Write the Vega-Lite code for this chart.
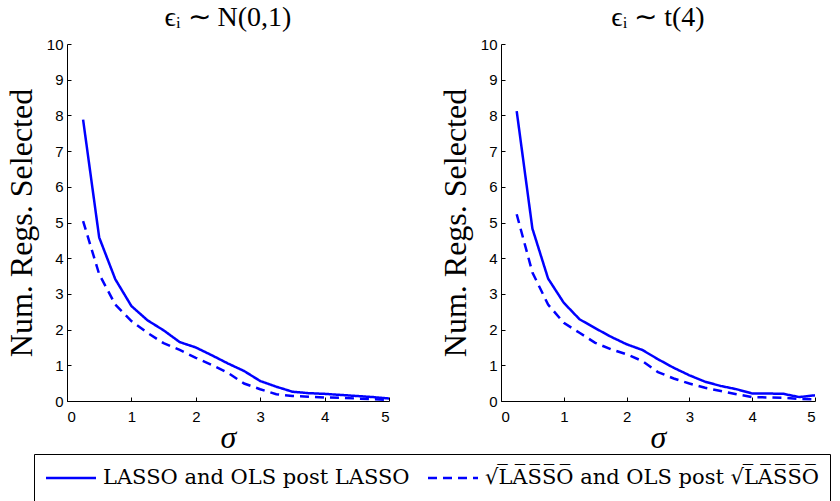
{
  "$schema": "https://vega.github.io/schema/vega-lite/v6.json",
  "padding": {"left": 5, "top": 4, "right": 0, "bottom": 0},
  "datasets": {
    "d": [
      {"dist": "N", "method": "LASSO and OLS post LASSO", "sigma": 0.25, "num": 7.88},
      {"dist": "N", "method": "LASSO and OLS post LASSO", "sigma": 0.5, "num": 4.58},
      {"dist": "N", "method": "LASSO and OLS post LASSO", "sigma": 0.75, "num": 3.41},
      {"dist": "N", "method": "LASSO and OLS post LASSO", "sigma": 1.0, "num": 2.66},
      {"dist": "N", "method": "LASSO and OLS post LASSO", "sigma": 1.25, "num": 2.26},
      {"dist": "N", "method": "LASSO and OLS post LASSO", "sigma": 1.5, "num": 1.98},
      {"dist": "N", "method": "LASSO and OLS post LASSO", "sigma": 1.75, "num": 1.65},
      {"dist": "N", "method": "LASSO and OLS post LASSO", "sigma": 2.0, "num": 1.5},
      {"dist": "N", "method": "LASSO and OLS post LASSO", "sigma": 2.25, "num": 1.28},
      {"dist": "N", "method": "LASSO and OLS post LASSO", "sigma": 2.5, "num": 1.05},
      {"dist": "N", "method": "LASSO and OLS post LASSO", "sigma": 2.75, "num": 0.84},
      {"dist": "N", "method": "LASSO and OLS post LASSO", "sigma": 3.0, "num": 0.56},
      {"dist": "N", "method": "LASSO and OLS post LASSO", "sigma": 3.25, "num": 0.4},
      {"dist": "N", "method": "LASSO and OLS post LASSO", "sigma": 3.5, "num": 0.26},
      {"dist": "N", "method": "LASSO and OLS post LASSO", "sigma": 3.75, "num": 0.22},
      {"dist": "N", "method": "LASSO and OLS post LASSO", "sigma": 4.0, "num": 0.2},
      {"dist": "N", "method": "LASSO and OLS post LASSO", "sigma": 4.25, "num": 0.17},
      {"dist": "N", "method": "LASSO and OLS post LASSO", "sigma": 4.5, "num": 0.14},
      {"dist": "N", "method": "LASSO and OLS post LASSO", "sigma": 4.75, "num": 0.11},
      {"dist": "N", "method": "LASSO and OLS post LASSO", "sigma": 5.0, "num": 0.07},
      {"dist": "N", "method": "√L̅A̅S̅S̅O̅ and OLS post √L̅A̅S̅S̅O̅", "sigma": 0.25, "num": 5.04},
      {"dist": "N", "method": "√L̅A̅S̅S̅O̅ and OLS post √L̅A̅S̅S̅O̅", "sigma": 0.5, "num": 3.55},
      {"dist": "N", "method": "√L̅A̅S̅S̅O̅ and OLS post √L̅A̅S̅S̅O̅", "sigma": 0.75, "num": 2.7},
      {"dist": "N", "method": "√L̅A̅S̅S̅O̅ and OLS post √L̅A̅S̅S̅O̅", "sigma": 1.0, "num": 2.24},
      {"dist": "N", "method": "√L̅A̅S̅S̅O̅ and OLS post √L̅A̅S̅S̅O̅", "sigma": 1.25, "num": 1.91},
      {"dist": "N", "method": "√L̅A̅S̅S̅O̅ and OLS post √L̅A̅S̅S̅O̅", "sigma": 1.5, "num": 1.62},
      {"dist": "N", "method": "√L̅A̅S̅S̅O̅ and OLS post √L̅A̅S̅S̅O̅", "sigma": 1.75, "num": 1.43},
      {"dist": "N", "method": "√L̅A̅S̅S̅O̅ and OLS post √L̅A̅S̅S̅O̅", "sigma": 2.0, "num": 1.21},
      {"dist": "N", "method": "√L̅A̅S̅S̅O̅ and OLS post √L̅A̅S̅S̅O̅", "sigma": 2.25, "num": 1.01},
      {"dist": "N", "method": "√L̅A̅S̅S̅O̅ and OLS post √L̅A̅S̅S̅O̅", "sigma": 2.5, "num": 0.79},
      {"dist": "N", "method": "√L̅A̅S̅S̅O̅ and OLS post √L̅A̅S̅S̅O̅", "sigma": 2.75, "num": 0.49},
      {"dist": "N", "method": "√L̅A̅S̅S̅O̅ and OLS post √L̅A̅S̅S̅O̅", "sigma": 3.0, "num": 0.33},
      {"dist": "N", "method": "√L̅A̅S̅S̅O̅ and OLS post √L̅A̅S̅S̅O̅", "sigma": 3.25, "num": 0.19},
      {"dist": "N", "method": "√L̅A̅S̅S̅O̅ and OLS post √L̅A̅S̅S̅O̅", "sigma": 3.5, "num": 0.14},
      {"dist": "N", "method": "√L̅A̅S̅S̅O̅ and OLS post √L̅A̅S̅S̅O̅", "sigma": 3.75, "num": 0.12},
      {"dist": "N", "method": "√L̅A̅S̅S̅O̅ and OLS post √L̅A̅S̅S̅O̅", "sigma": 4.0, "num": 0.1},
      {"dist": "N", "method": "√L̅A̅S̅S̅O̅ and OLS post √L̅A̅S̅S̅O̅", "sigma": 4.25, "num": 0.09},
      {"dist": "N", "method": "√L̅A̅S̅S̅O̅ and OLS post √L̅A̅S̅S̅O̅", "sigma": 4.5, "num": 0.07},
      {"dist": "N", "method": "√L̅A̅S̅S̅O̅ and OLS post √L̅A̅S̅S̅O̅", "sigma": 4.75, "num": 0.05},
      {"dist": "N", "method": "√L̅A̅S̅S̅O̅ and OLS post √L̅A̅S̅S̅O̅", "sigma": 5.0, "num": 0.03},
      {"dist": "T", "method": "LASSO and OLS post LASSO", "sigma": 0.25, "num": 8.12},
      {"dist": "T", "method": "LASSO and OLS post LASSO", "sigma": 0.5, "num": 4.83},
      {"dist": "T", "method": "LASSO and OLS post LASSO", "sigma": 0.75, "num": 3.43},
      {"dist": "T", "method": "LASSO and OLS post LASSO", "sigma": 1.0, "num": 2.75},
      {"dist": "T", "method": "LASSO and OLS post LASSO", "sigma": 1.25, "num": 2.29},
      {"dist": "T", "method": "LASSO and OLS post LASSO", "sigma": 1.5, "num": 2.04},
      {"dist": "T", "method": "LASSO and OLS post LASSO", "sigma": 1.75, "num": 1.8},
      {"dist": "T", "method": "LASSO and OLS post LASSO", "sigma": 2.0, "num": 1.59},
      {"dist": "T", "method": "LASSO and OLS post LASSO", "sigma": 2.25, "num": 1.43},
      {"dist": "T", "method": "LASSO and OLS post LASSO", "sigma": 2.5, "num": 1.17},
      {"dist": "T", "method": "LASSO and OLS post LASSO", "sigma": 2.75, "num": 0.93},
      {"dist": "T", "method": "LASSO and OLS post LASSO", "sigma": 3.0, "num": 0.72},
      {"dist": "T", "method": "LASSO and OLS post LASSO", "sigma": 3.25, "num": 0.54},
      {"dist": "T", "method": "LASSO and OLS post LASSO", "sigma": 3.5, "num": 0.42},
      {"dist": "T", "method": "LASSO and OLS post LASSO", "sigma": 3.75, "num": 0.33},
      {"dist": "T", "method": "LASSO and OLS post LASSO", "sigma": 4.0, "num": 0.21},
      {"dist": "T", "method": "LASSO and OLS post LASSO", "sigma": 4.25, "num": 0.21},
      {"dist": "T", "method": "LASSO and OLS post LASSO", "sigma": 4.5, "num": 0.2},
      {"dist": "T", "method": "LASSO and OLS post LASSO", "sigma": 4.75, "num": 0.11},
      {"dist": "T", "method": "LASSO and OLS post LASSO", "sigma": 5.0, "num": 0.16},
      {"dist": "T", "method": "√L̅A̅S̅S̅O̅ and OLS post √L̅A̅S̅S̅O̅", "sigma": 0.25, "num": 5.23},
      {"dist": "T", "method": "√L̅A̅S̅S̅O̅ and OLS post √L̅A̅S̅S̅O̅", "sigma": 0.5, "num": 3.6},
      {"dist": "T", "method": "√L̅A̅S̅S̅O̅ and OLS post √L̅A̅S̅S̅O̅", "sigma": 0.75, "num": 2.7},
      {"dist": "T", "method": "√L̅A̅S̅S̅O̅ and OLS post √L̅A̅S̅S̅O̅", "sigma": 1.0, "num": 2.19},
      {"dist": "T", "method": "√L̅A̅S̅S̅O̅ and OLS post √L̅A̅S̅S̅O̅", "sigma": 1.25, "num": 1.91},
      {"dist": "T", "method": "√L̅A̅S̅S̅O̅ and OLS post √L̅A̅S̅S̅O̅", "sigma": 1.5, "num": 1.63},
      {"dist": "T", "method": "√L̅A̅S̅S̅O̅ and OLS post √L̅A̅S̅S̅O̅", "sigma": 1.75, "num": 1.45},
      {"dist": "T", "method": "√L̅A̅S̅S̅O̅ and OLS post √L̅A̅S̅S̅O̅", "sigma": 2.0, "num": 1.31},
      {"dist": "T", "method": "√L̅A̅S̅S̅O̅ and OLS post √L̅A̅S̅S̅O̅", "sigma": 2.25, "num": 1.12},
      {"dist": "T", "method": "√L̅A̅S̅S̅O̅ and OLS post √L̅A̅S̅S̅O̅", "sigma": 2.5, "num": 0.81},
      {"dist": "T", "method": "√L̅A̅S̅S̅O̅ and OLS post √L̅A̅S̅S̅O̅", "sigma": 2.75, "num": 0.63},
      {"dist": "T", "method": "√L̅A̅S̅S̅O̅ and OLS post √L̅A̅S̅S̅O̅", "sigma": 3.0, "num": 0.49},
      {"dist": "T", "method": "√L̅A̅S̅S̅O̅ and OLS post √L̅A̅S̅S̅O̅", "sigma": 3.25, "num": 0.37},
      {"dist": "T", "method": "√L̅A̅S̅S̅O̅ and OLS post √L̅A̅S̅S̅O̅", "sigma": 3.5, "num": 0.28},
      {"dist": "T", "method": "√L̅A̅S̅S̅O̅ and OLS post √L̅A̅S̅S̅O̅", "sigma": 3.75, "num": 0.19},
      {"dist": "T", "method": "√L̅A̅S̅S̅O̅ and OLS post √L̅A̅S̅S̅O̅", "sigma": 4.0, "num": 0.11},
      {"dist": "T", "method": "√L̅A̅S̅S̅O̅ and OLS post √L̅A̅S̅S̅O̅", "sigma": 4.25, "num": 0.1},
      {"dist": "T", "method": "√L̅A̅S̅S̅O̅ and OLS post √L̅A̅S̅S̅O̅", "sigma": 4.5, "num": 0.09},
      {"dist": "T", "method": "√L̅A̅S̅S̅O̅ and OLS post √L̅A̅S̅S̅O̅", "sigma": 4.75, "num": 0.06},
      {"dist": "T", "method": "√L̅A̅S̅S̅O̅ and OLS post √L̅A̅S̅S̅O̅", "sigma": 5.0, "num": 0.05}
    ]
  },
  "data": {"name": "d"},
  "config": {
    "view": {"stroke": null},
    "axis": {
      "grid": false,
      "domainColor": "#000000",
      "domainWidth": 1,
      "tickColor": "#000000",
      "tickSize": -4,
      "labelColor": "#000000",
      "labelFont": "Liberation Sans",
      "labelFontSize": 15,
      "titleFont": "Liberation Serif",
      "titleFontSize": 32,
      "titleFontWeight": "normal",
      "titleColor": "#000000"
    },
    "title": {"font": "Liberation Serif", "fontSize": 28, "fontWeight": "normal", "color": "#000000", "offset": 5},
    "legend": {
      "orient": "none",
      "legendX": -33,
      "legendY": 410,
      "direction": "horizontal",
      "symbolType": "M-2,0H2",
      "symbolSize": 625,
      "symbolOffset": 13,
      "symbolStrokeWidth": 2.5,
      "symbolStrokeColor": "#0000ff",
      "symbolFillColor": "transparent",
      "labelFont": "DejaVu Serif",
      "labelFontSize": 21,
      "labelColor": "#000000",
      "labelLimit": 600,
      "labelOffset": 18,
      "columnPadding": 13,
      "strokeColor": "#000000",
      "fillColor": "#ffffff",
      "padding": 10,
      "titleOrient": "bottom",
      "titleFontSize": 10,
      "titlePadding": 4
    }
  },
  "spacing": 45,
  "resolve": {"scale": {"strokeDash": "shared"}},
  "hconcat": [
    {
      "width": 322,
      "height": 357,
      "title": "ϵᵢ ∼ N(0,1)",
      "transform": [{"filter": "datum.dist === 'N'"}],
      "mark": {"type": "line", "color": "#0000ff", "strokeWidth": 2.5},
      "encoding": {
        "x": {"field": "sigma", "type": "quantitative", "scale": {"domain": [0, 5]}, "axis": {"values": [0, 1, 2, 3, 4, 5], "title": "σ", "titleFontStyle": "italic", "labelPadding": 12, "titlePadding": -2}},
        "y": {"field": "num", "type": "quantitative", "scale": {"domain": [0, 10]}, "axis": {"values": [0, 1, 2, 3, 4, 5, 6, 7, 8, 9, 10], "title": "Num.  Regs.  Selected", "labelPadding": 8, "titlePadding": 8}},
        "strokeDash": {"field": "method", "type": "nominal", "scale": {"domain": ["LASSO and OLS post LASSO", "√L̅A̅S̅S̅O̅ and OLS post √L̅A̅S̅S̅O̅"], "range": [[1, 0], [9, 6]]}, "legend": {"title": " "}}
      }
    },
    {
      "width": 314,
      "height": 357,
      "title": "ϵᵢ ∼ t(4)",
      "transform": [{"filter": "datum.dist === 'T'"}],
      "mark": {"type": "line", "color": "#0000ff", "strokeWidth": 2.5},
      "encoding": {
        "x": {"field": "sigma", "type": "quantitative", "scale": {"domain": [0, 5]}, "axis": {"values": [0, 1, 2, 3, 4, 5], "title": "σ", "titleFontStyle": "italic", "labelPadding": 12, "titlePadding": -2}},
        "y": {"field": "num", "type": "quantitative", "scale": {"domain": [0, 10]}, "axis": {"values": [0, 1, 2, 3, 4, 5, 6, 7, 8, 9, 10], "title": "Num.  Regs.  Selected", "labelPadding": 8, "titlePadding": 8}},
        "strokeDash": {"field": "method", "type": "nominal", "scale": {"domain": ["LASSO and OLS post LASSO", "√L̅A̅S̅S̅O̅ and OLS post √L̅A̅S̅S̅O̅"], "range": [[1, 0], [9, 6]]}, "legend": {"title": " "}}
      }
    }
  ]
}
